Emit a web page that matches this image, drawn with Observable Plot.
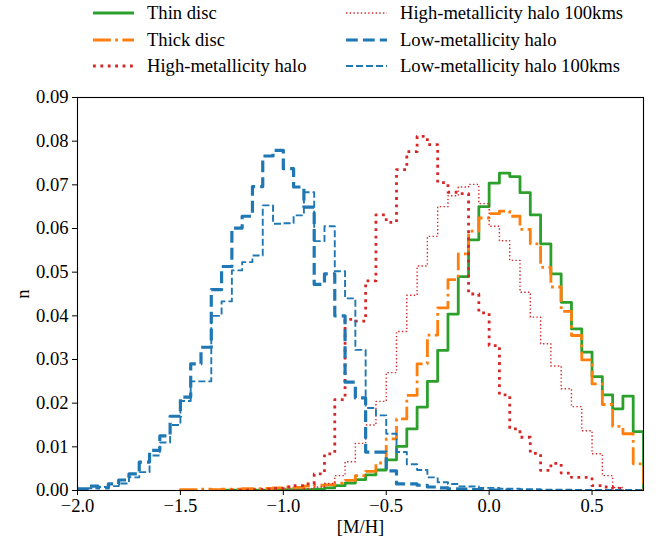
<!DOCTYPE html>
<html>
<head>
<meta charset="utf-8">
<script src="https://cdn.jsdelivr.net/npm/d3@7"></script>
<script src="https://cdn.jsdelivr.net/npm/@observablehq/plot@0.6"></script>
<style>
  html, body { margin: 0; padding: 0; background: #fff; }
  #wrap { position: relative; width: 659px; height: 543px; font-family: "Liberation Serif", "Times New Roman", serif; }
  #legend { position: relative; width: 659px; height: 80px; }
  .item { position: absolute; height: 20px; display: flex; align-items: center; font-size: 18.6px; color: #000; white-space: nowrap; }
  .item svg { margin-right: 13px; }
</style>
</head>
<body>
<div id="wrap">
  <div id="legend"></div>
  <div id="chart"></div>
</div>
<script>
// ---------------- data ----------------
const binWidth = 0.05;

const seriesNames = [
  "Thin disc",
  "Thick disc",
  "High-metallicity halo",
  "High-metallicity halo 100kms",
  "Low-metallicity halo",
  "Low-metallicity halo 100kms"
];

// first bin left edge of each histogram
const binStarts = [-1.30, -1.50, -1.25, -1.00, -2.00, -2.00];

const thinDisc = [
  0.0001, 0.0001, 0.0001, 0.0001, 0.0001, 0.0001, 0.0002, 0.0002, 0.0002, 0.0003,
  0.0006, 0.0011, 0.0017, 0.0025, 0.0036, 0.0047, 0.0070, 0.0101, 0.0141, 0.0191,
  0.0250, 0.0321, 0.0404, 0.0490, 0.0574, 0.0650, 0.0704, 0.0727, 0.0719, 0.0682,
  0.0631, 0.0565, 0.0496, 0.0431, 0.0370, 0.0317, 0.0261, 0.0219, 0.0187, 0.0216,
  0.0135
];

const thickDisc = [
  0.0002, 0.0002, 0.0003, 0.0002, 0.0003, 0.0003, 0.0004, 0.0004, 0.0005, 0.0006,
  0.0008, 0.0007, 0.0010, 0.0012, 0.0013, 0.0017, 0.0023, 0.0034, 0.0044, 0.0063,
  0.0118, 0.0164, 0.0218, 0.0290, 0.0356, 0.0418, 0.0483, 0.0542, 0.0594, 0.0624,
  0.0634, 0.0640, 0.0628, 0.0598, 0.0565, 0.0511, 0.0466, 0.0410, 0.0355, 0.0299,
  0.0244, 0.0197, 0.0147, 0.0130, 0.0061
];

const highMetHalo = [
  0.0001, 0.0001, 0.0002, 0.0003, 0.0005, 0.0008, 0.0011, 0.0015, 0.0038, 0.0084,
  0.0208, 0.0392, 0.0388, 0.0480, 0.0631, 0.0614, 0.0735, 0.0776, 0.0811, 0.0792,
  0.0705, 0.0683, 0.0680, 0.0450, 0.0407, 0.0332, 0.0219, 0.0141, 0.0122, 0.0085,
  0.0046, 0.0062, 0.0040, 0.0030, 0.0030, 0.0011, 0.0008, 0.0005
];

const highMetHalo100 = [
  0.0001, 0.0002, 0.0004, 0.0008, 0.0016, 0.0034, 0.0066, 0.0108, 0.0150, 0.0204,
  0.0270, 0.0364, 0.0447, 0.0514, 0.0582, 0.0650, 0.0675, 0.0695, 0.0701, 0.0657,
  0.0605, 0.0572, 0.0527, 0.0454, 0.0397, 0.0336, 0.0285, 0.0233, 0.0192, 0.0137,
  0.0084, 0.0034, 0.0007, 0.0001
];

const lowMetHalo = [
  0.0004, 0.0010, 0.0006, 0.0015, 0.0024, 0.0038, 0.0065, 0.0092, 0.0125, 0.0170,
  0.0214, 0.0290, 0.0328, 0.0460, 0.0513, 0.0601, 0.0628, 0.0696, 0.0766, 0.0779,
  0.0737, 0.0695, 0.0649, 0.0472, 0.0496, 0.0400, 0.0248, 0.0212, 0.0088, 0.0088,
  0.0045, 0.0015, 0.0015, 0.0012, 0.0008, 0.0006, 0.0004, 0.0003, 0.0002, 0.0002,
  0.0001, 0.0001
];

const lowMetHalo100 = [
  0.0002, 0.0005, 0.0008, 0.0010, 0.0016, 0.0030, 0.0042, 0.0080, 0.0110, 0.0150,
  0.0205, 0.0250, 0.0250, 0.0400, 0.0433, 0.0504, 0.0523, 0.0538, 0.0653, 0.0611,
  0.0612, 0.0630, 0.0683, 0.0571, 0.0605, 0.0502, 0.0440, 0.0322, 0.0189, 0.0172,
  0.0130, 0.0088, 0.0060, 0.0047, 0.0030, 0.0019, 0.0015, 0.0009, 0.0009, 0.0006,
  0.0006, 0.0004, 0.0004, 0.0003, 0.0003, 0.0002, 0.0002, 0.0002, 0.0001, 0.0001,
  0.0001, 0.0001, 0.0001, 0.0001, 0.0001
];

const xTicks = [-2.0, -1.5, -1.0, -0.5, 0.0, 0.5];
const yTicks = [0.00, 0.01, 0.02, 0.03, 0.04, 0.05, 0.06, 0.07, 0.08, 0.09];

// ---------------- styles ----------------
const styles = [
  {color: "#2ca02c", width: 2.8, dash: null},
  {color: "#ff7f0e", width: 2.8, dash: "17.8,4.4,2.8,4.4"},
  {color: "#d62728", width: 2.8, dash: "2.8,4.6"},
  {color: "#d62728", width: 1.4, dash: "1.4,2.3"},
  {color: "#1f77b4", width: 3.2, dash: "11.8,5.1"},
  {color: "#1f77b4", width: 1.9, dash: "7,3"}
];

const allValues = [thinDisc, thickDisc, highMetHalo, highMetHalo100, lowMetHalo, lowMetHalo100];

// step-outline points of a histogram (like histtype="step")
function outline(values, start, name) {
  const pts = [{x: start, y: 0, s: name}];
  values.forEach((v, i) => pts.push({x: start + i * binWidth, y: v, s: name}));
  pts.push({x: start + values.length * binWidth, y: 0, s: name});
  return pts;
}

const marks = [];
allValues.forEach((vals, k) => {
  const st = styles[k];
  marks.push(Plot.line(outline(vals, binStarts[k], seriesNames[k]), {
    x: "x", y: "y", curve: "step-after",
    stroke: st.color, strokeWidth: st.width,
    strokeDasharray: st.dash || undefined,
    strokeLinecap: "butt", strokeLinejoin: "round",
    clip: true
  }));
});

const chart = Plot.plot({
  width: 659,
  height: 463,
  marginTop: 17,
  marginBottom: 53,
  marginLeft: 77,
  marginRight: 16,
  style: {fontFamily: "'Liberation Serif', 'Times New Roman', serif", fontSize: "18.6px", color: "#000", background: "#fff", overflow: "visible"},
  x: {domain: [-2.0, 0.75]},
  y: {domain: [0, 0.09]},
  marks: [
    ...marks,
    Plot.frame({stroke: "#000", strokeWidth: 1.1}),
    Plot.axisX({ticks: xTicks, tickFormat: d3.format(".1f"), tickSize: 5, tickPadding: 3, stroke: "#000",
      label: "[M/H]", labelAnchor: "center", labelArrow: "none", labelOffset: 42}),
    Plot.axisY({ticks: yTicks, tickFormat: d3.format(".2f"), tickSize: 5, tickPadding: 4, stroke: "#000",
      label: "n", labelAnchor: "center", labelArrow: "none", labelOffset: 62})
  ]
});
document.getElementById("chart").appendChild(chart);

// ---------------- legend ----------------
const legendPos = [
  {left: 93, top: 13}, {left: 93, top: 40}, {left: 93, top: 66},
  {left: 346, top: 13}, {left: 346, top: 40}, {left: 346, top: 66}
];
const legend = document.getElementById("legend");
seriesNames.forEach((name, k) => {
  const st = styles[k];
  const div = document.createElement("div");
  div.className = "item";
  div.style.left = legendPos[k].left + "px";
  div.style.top = (legendPos[k].top - 10) + "px";
  const ns = "http://www.w3.org/2000/svg";
  const svg = document.createElementNS(ns, "svg");
  svg.setAttribute("width", 41); svg.setAttribute("height", 20);
  const ln = document.createElementNS(ns, "line");
  ln.setAttribute("x1", 0); ln.setAttribute("x2", 41);
  ln.setAttribute("y1", 10); ln.setAttribute("y2", 10);
  ln.setAttribute("stroke", st.color);
  ln.setAttribute("stroke-width", st.width);
  if (st.dash) ln.setAttribute("stroke-dasharray", st.dash);
  svg.appendChild(ln);
  div.appendChild(svg);
  const span = document.createElement("span");
  span.textContent = name;
  div.appendChild(span);
  legend.appendChild(div);
});
</script>
</body>
</html>
